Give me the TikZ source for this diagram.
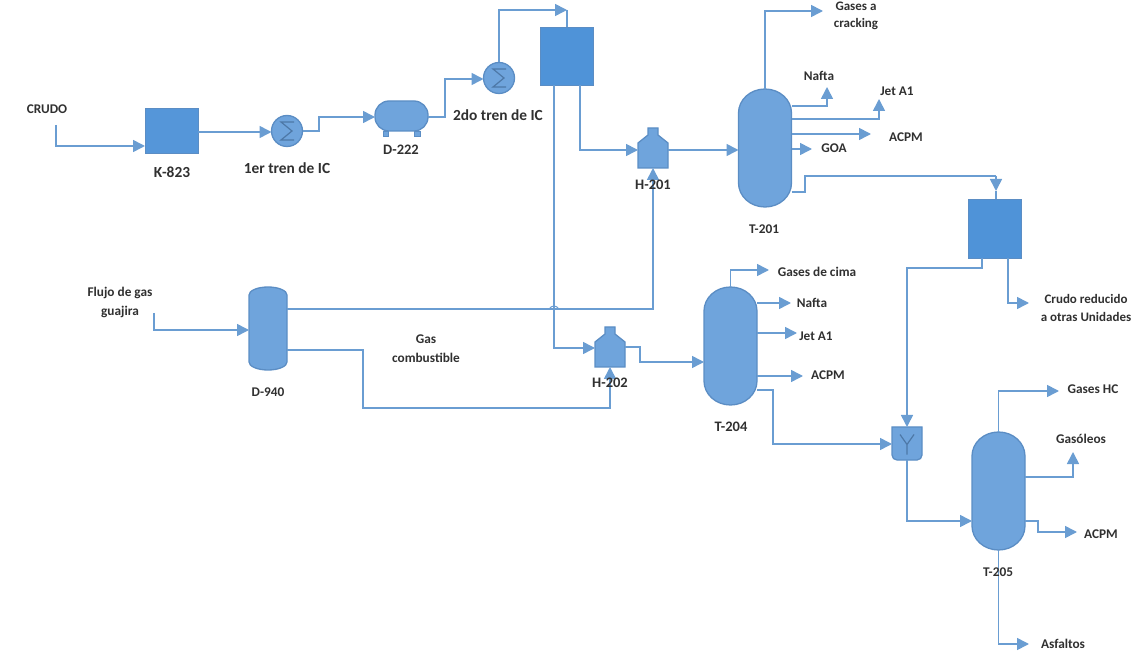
\documentclass[tikz,border=0pt]{standalone}
\usepackage{fontspec}
\setmainfont{Carlito}
\usetikzlibrary{arrows.meta}
\definecolor{pipecol}{HTML}{6A9DD2}
\definecolor{unitcol}{HTML}{6FA4DC}
\definecolor{boxcol}{HTML}{4F93D8}
\definecolor{edgecol}{HTML}{5B8DC4}
\definecolor{labelcol}{HTML}{303030}
% vessel with elliptical caps: name, x, y, width, height, cap
\newcommand{\vessel}[6]{%
  \node[hitbox,minimum width=#4pt,minimum height=#5pt] (#1) at (#2,#3) {};
  \draw[unit] ([yshift=-#6pt]#1.north west)
    arc[start angle=180,end angle=0,x radius=#4pt/2,y radius=#6pt]
    -- ([yshift=#6pt]#1.south east)
    arc[start angle=0,end angle=-180,x radius=#4pt/2,y radius=#6pt] -- cycle;
}
% furnace: name, x, y
\newcommand{\furnace}[3]{%
  \node[hitbox,minimum width=30pt,minimum height=40pt] (#1) at (#2,#3) {};
  \draw[unit] (#1.south west) -- ++(0,-25) -- ++(10,-8) -- ++(0,-7)
    -- ++(10,0) -- ++(0,7) -- ++(10,8) -- ++(0,25) -- cycle;
}
\tikzset{
  hitbox/.style={inner sep=0pt,outer sep=0pt},
  unit/.style={draw=edgecol,fill=unitcol,line width=1.3pt},
  tank/.style={draw=edgecol,fill=boxcol,line width=0.8pt,inner sep=0pt,outer sep=0pt},
  glyph/.style={draw=edgecol!85!black,line width=1.2pt},
  cooler/.style={circle,unit,inner sep=0pt,outer sep=0pt,minimum size=31pt,
    path picture={\draw[glyph]
      ([shift={(7pt,9pt)}]path picture bounding box.center) -- ++(-13pt,0pt)
      -- ++(11pt,-9pt) -- ++(-11pt,-9pt) -- ++(13pt,0pt);}},
  pipe/.style={draw=pipecol,line width=1.6pt},
  stream/.style={pipe,-{Triangle[length=12pt,width=12pt]}},
  tag/.style={text=labelcol,font=\bfseries\fontsize{13.3}{19}\selectfont,inner sep=0pt,align=center},
  bigtag/.style={tag,font=\bfseries\fontsize{14.5}{19}\selectfont},
  widetag/.style={tag,font=\bfseries\fontsize{15.4}{19}\selectfont}
}
\begin{document}
\begin{tikzpicture}[x=1pt,y=-1pt]
  \path[use as bounding box] (0,0) rectangle (1136,652);
  % free ends of the streams
  \coordinate (crudoIn) at (56,125);
  \coordinate (gasIn) at (154,313);
  \coordinate (gasesT201) at (823,11);
  \coordinate (naftaT201) at (827,87);
  \coordinate (jetT201) at (879,99);
  \coordinate (acpmT201) at (871,134);
  \coordinate (goaT201) at (812,149);
  \coordinate (cimaT204) at (769,270);
  \coordinate (naftaT204) at (791,303);
  \coordinate (jetT204) at (797,333);
  \coordinate (acpmT204) at (803,376);
  \coordinate (crudoOut) at (1029,303);
  \coordinate (gasesT205) at (1059,391);
  \coordinate (gasoleoT205) at (1073,452);
  \coordinate (acpmT205) at (1077,532);
  \coordinate (asfaltoT205) at (1029,644);
  \coordinate (topDrop) at (567,10);
  \coordinate (midDrop) at (996,176);

  % pipes first, the units sit on top
  \node[tank,fill=boxcol!80!unitcol,minimum width=53pt,minimum height=45pt] (K823) at (171.5,130.5) {};
  \node[cooler] (tren1) at (287,131) {};
  \node[cooler] (tren2) at (499,78) {};
  \node[tank,minimum width=53pt,minimum height=58pt] (sepBox) at (566.5,56) {};
  \node[tank,minimum width=53pt,minimum height=59pt] (redBox) at (994.5,228.5) {};
  \node[unit,rounded corners=14pt,inner sep=0pt,outer sep=0pt,minimum width=53pt,minimum height=30pt] (D222) at (401.5,116) {};
  \draw[unit,line width=0.8pt] ([xshift=8pt]D222.south west) rectangle ++(5,5);
  \draw[unit,line width=0.8pt] ([xshift=-8pt]D222.south east) rectangle ++(-6,5);

  \vessel{T201}{765}{148}{53}{118}{24}
  \vessel{T204}{730.5}{346}{53}{118}{24}
  \vessel{T205}{998.5}{491}{53}{118}{24}
  \vessel{D940}{268}{328.5}{38}{83}{8}
  \furnace{H201}{653}{148}
  \furnace{H202}{610}{347}

  \node[hitbox,minimum width=30pt,minimum height=33pt] (mixer) at (907,443.5) {};
  \draw[unit] (mixer.north west) [rounded corners=5pt] -- (mixer.south west)
    -- (mixer.south east) [sharp corners] -- (mixer.north east) -- cycle;
  \draw[glyph] ([shift={(-7pt,9pt)}]mixer.center) -- ([yshift=-1pt]mixer.center)
    -- ([shift={(7pt,9pt)}]mixer.center) ([yshift=-1pt]mixer.center) -- ([yshift=-11pt]mixer.center);

  % crude train
  \draw[stream] (crudoIn) |- (K823.west |- 0,146);
  \draw[stream] (K823.east |- 0,132) -- (tren1.west |- 0,132);
  \draw[stream] (tren1.east) -- (319,131) -- (319,117) -- (D222.west |- 0,117);
  \draw[stream] (D222.east |- 0,117) -- (445,117) -- (445,79) -- (tren2.west |- 0,79);
  \draw[stream] (tren2.north) |- (topDrop);
  \draw[pipe] (topDrop) -- (sepBox.north -| topDrop);
  \draw[stream] (sepBox.south -| 580,0) |- (H201.west |- 0,150);
  \draw[stream] (sepBox.south -| 554,0) |- (H202.west |- 0,348);
  \draw[stream] (H201.east |- 0,150) -- (T201.west |- 0,150);
  \draw[stream] (H202.east |- 0,347) -- (640,347) -- (640,362) -- (T204.west |- 0,362);

  % gas
  \draw[stream] (gasIn) |- (D940.west |- 0,330);
  \draw[stream] (D940.east |- 0,309) -| (H201.south);
  \draw[stream] (D940.east |- 0,350) -- (363,350) -- (363,408) -| (H202.south);
  \draw[pipe,line width=1pt] (549,309) .. controls (552,305) and (556,305) .. (559,309);

  % T-201 products
  \draw[stream] (T201.north) |- (gasesT201);
  \draw[stream] (T201.east |- 0,106) -| (naftaT201);
  \draw[stream] (T201.east |- 0,119) -| (jetT201);
  \draw[stream] (T201.east |- 0,134) -- (acpmT201);
  \draw[stream] (T201.east |- 0,149) -- (goaT201);
  \draw[pipe] (T201.east |- 0,192) -- (805,192) -- (805,176) -- (midDrop);
  \draw[stream] (midDrop) -- (996,191);
  \draw[pipe] (996,191) -- (redBox.north -| midDrop);
  \draw[pipe] (redBox.south -| 982,0) -- (982,268) -- (907,268) -- (907,300);
  \draw[stream] (907,300) -- (mixer.north);
  \draw[stream] (redBox.south -| 1008,0) |- (crudoOut);

  % T-204 products
  \draw[stream] (T204.north) |- (cimaT204);
  \draw[stream] (T204.east |- 0,303) -- (naftaT204);
  \draw[stream] (T204.east |- 0,333) -- (jetT204);
  \draw[stream] (T204.east |- 0,376) -- (acpmT204);
  \draw[stream] (T204.east |- 0,390) -- (773,390) -- (773,444) -- (mixer.west |- 0,444);

  % T-205 products
  \draw[stream] (mixer.south) |- (T205.west |- 0,521);
  \draw[stream] (T205.north) |- (gasesT205);
  \draw[stream] (T205.east |- 0,477) -| (gasoleoT205);
  \draw[stream] (T205.east |- 0,521) -- (1038,521) -- (1038,532) -- (acpmT205);
  \draw[stream] (T205.south) |- (asfaltoT205);

  % labels
  \node[tag] (lblCrudo) at (47,109) {CRUDO};
  \node[widetag] (lblK823) at (172,172) {K-823};
  \node[widetag] (lblTren1) at (287,168) {1er tren de IC};
  \node[bigtag] (lblD222) at (401,150) {D-222};
  \node[widetag] (lblTren2) at (498,115) {2do tren de IC};
  \node[tag,font=\bfseries\fontsize{13}{17}\selectfont] (lblCracking) at (856,16) {Gases a\\cracking};
  \node[tag] (lblNafta1) at (819,76) {Nafta};
  \node[tag] (lblJet1) at (897,91) {Jet A1};
  \node[tag] (lblAcpm1) at (906,137) {ACPM};
  \node[tag] (lblGoa) at (834,148) {GOA};
  \node[bigtag] (lblH201) at (653,185) {H-201};
  \node[tag] (lblT201) at (764,229) {T-201};
  \node[tag] (lblCima) at (817,272) {Gases de cima};
  \node[tag] (lblNafta2) at (812,303) {Nafta};
  \node[tag] (lblJet2) at (816,336) {Jet A1};
  \node[tag] (lblAcpm2) at (828,375) {ACPM};
  \node[bigtag] (lblH202) at (610,383) {H-202};
  \node[bigtag] (lblT204) at (731,427) {T-204};
  \node[tag] (lblFlujo) at (120,302.5) {Flujo de gas\\guajira};
  \node[tag] (lblComb) at (426,348.5) {Gas\\combustible};
  \node[tag] (lblD940) at (268,392) {D-940};
  \node[tag,font=\bfseries\fontsize{13}{18}\selectfont] (lblReducido) at (1086,308) {Crudo reducido\\a otras Unidades};
  \node[tag] (lblGasesHC) at (1093,389) {Gases HC};
  \node[tag] (lblGasoleos) at (1081,439) {Gasóleos};
  \node[tag] (lblAcpm3) at (1101,534) {ACPM};
  \node[tag] (lblT205) at (998,572) {T-205};
  \node[tag] (lblAsfaltos) at (1063,644) {Asfaltos};
\end{tikzpicture}
\end{document}
